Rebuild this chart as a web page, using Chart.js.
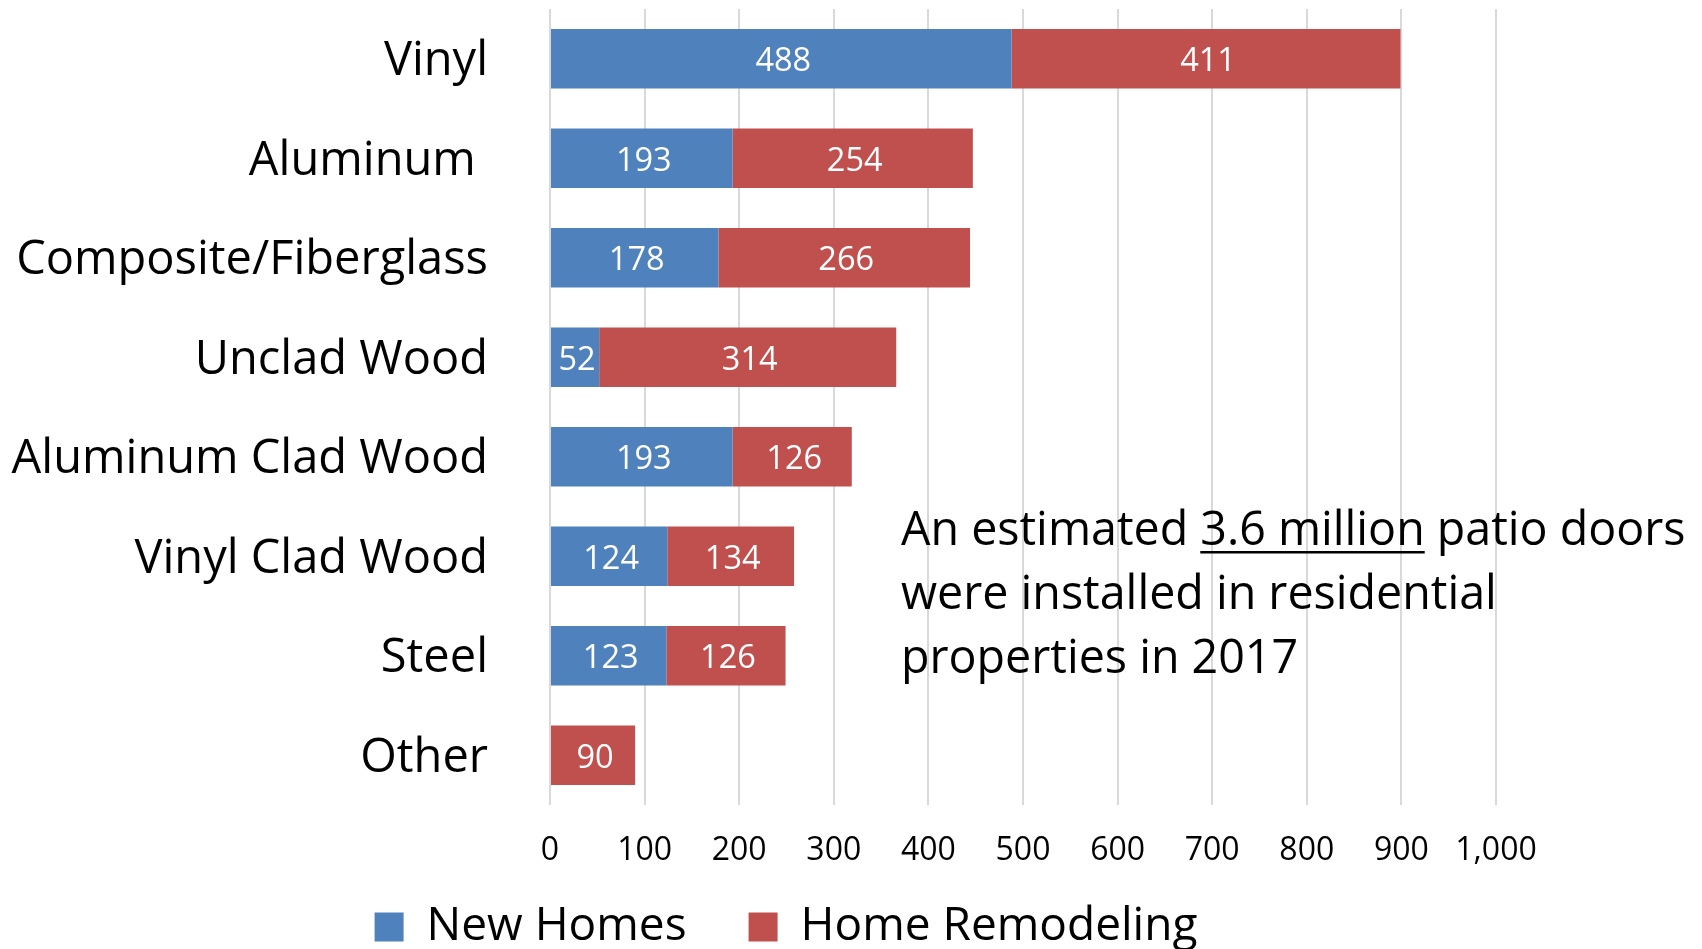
<!DOCTYPE html>
<html>
<head>
<meta charset="utf-8">
<script src="https://cdn.jsdelivr.net/npm/chart.js@4/dist/chart.umd.min.js"></script>
<style>
  html, body { margin: 0; padding: 0; background: #ffffff; }
  #wrap { width: 1702px; height: 949px; position: relative; }
</style>
</head>
<body>
<div id="wrap"><canvas id="c" width="1702" height="949"></canvas></div>
<script>
// ---- Data ----
const categories = ['Vinyl', 'Aluminum ', 'Composite/Fiberglass', 'Unclad Wood', 'Aluminum Clad Wood', 'Vinyl Clad Wood', 'Steel', 'Other'];
const newHomes = [488, 193, 178, 52, 193, 124, 123, 0];
const homeRemodeling = [411, 254, 266, 314, 126, 134, 126, 90];
const seriesNames = ['New Homes', 'Home Remodeling'];
const xTickMax = 1000;
const xTickStep = 100;
const noteLines = [
  ['An estimated ', '3.6 million', ' patio doors'],
  ['were installed in residential'],
  ['properties in 2017']
];

const FONT = "'Open Sans', 'Noto Sans', 'DejaVu Sans', sans-serif";
const BLUE = '#4F81BD';
const RED = '#C0504D';
const LEGEND_FONT = 46;
const LEGEND_PAD = 62;

// Draw value labels centred in each bar segment
const valueLabels = {
  id: 'valueLabels',
  afterDatasetsDraw(chart) {
    const ctx = chart.ctx;
    ctx.save();
    ctx.font = '32.5px ' + FONT;
    ctx.fillStyle = '#ffffff';
    ctx.textAlign = 'center';
    ctx.textBaseline = 'middle';
    chart.data.datasets.forEach((ds, di) => {
      const meta = chart.getDatasetMeta(di);
      meta.data.forEach((el, i) => {
        const v = ds.data[i];
        if (!v) return;
        const cx = (el.x + el.base) / 2;
        ctx.fillText(String(v), cx + 2, el.y + 3);
      });
    });
    ctx.restore();
  }
};

// Place the legend like the reference
const legendPlace = {
  id: 'legendPlace',
  afterLayout(chart) {
    const lg = chart.legend;
    if (!lg) return;
    lg.left = 76;
    lg.top = 927 - LEGEND_PAD - LEGEND_FONT / 2;
  }
};

// Annotation text block
const note = {
  id: 'note',
  afterDraw(chart) {
    const ctx = chart.ctx;
    ctx.save();
    ctx.font = '46.6px ' + FONT;
    ctx.fillStyle = '#000000';
    ctx.textAlign = 'left';
    ctx.textBaseline = 'middle';
    const x0 = 901;
    const ys = [532, 596, 660];
    noteLines.forEach((parts, li) => {
      let x = x0;
      parts.forEach((p, pi) => {
        ctx.fillText(p, x, ys[li]);
        const w = ctx.measureText(p).width;
        if (li === 0 && pi === 1) {
          ctx.fillRect(x, ys[li] + 19, w, 2.5);
        }
        x += w;
      });
    });
    ctx.restore();
  }
};

new Chart(document.getElementById('c'), {
  type: 'bar',
  data: {
    labels: categories,
    datasets: [
      { label: seriesNames[0], data: newHomes, backgroundColor: BLUE, borderWidth: 0 },
      { label: seriesNames[1], data: homeRemodeling, backgroundColor: RED, borderWidth: 0 }
    ]
  },
  options: {
    indexAxis: 'y',
    responsive: false,
    animation: false,
    devicePixelRatio: 1,
    layout: { padding: { left: 4, right: 206, top: 9, bottom: -49 } },
    datasets: { bar: { categoryPercentage: 1.0, barPercentage: 0.6 } },
    scales: {
      x: {
        stacked: true,
        min: 0,
        max: xTickMax,
        ticks: {
          stepSize: xTickStep,
          color: '#000000',
          font: { family: FONT, size: 32 },
          padding: 27,
          maxRotation: 0,
          callback: (v) => v.toLocaleString('en-US')
        },
        grid: { color: '#D9D9D9', lineWidth: 2, drawTicks: false },
        border: { display: false },
        afterFit(scale) { scale.height = 75; scale.paddingLeft = 0; scale.paddingRight = 0; }
      },
      y: {
        stacked: true,
        ticks: {
          color: '#000000',
          font: { family: FONT, size: 47 },
          padding: 62,
          labelOffset: 3
        },
        grid: { display: false, drawTicks: false },
        border: { display: false },
        afterFit(scale) { scale.width = 546; scale.paddingTop = 0; scale.paddingBottom = 0; }
      }
    },
    plugins: {
      legend: {
        position: 'bottom',
        align: 'center',
        labels: {
          color: '#000000',
          font: { family: FONT, size: LEGEND_FONT },
          boxWidth: 29,
          boxHeight: 29,
          padding: LEGEND_PAD
        }
      },
      tooltip: { enabled: false },
      title: { display: false }
    }
  },
  plugins: [valueLabels, legendPlace, note]
});
</script>
</body>
</html>
